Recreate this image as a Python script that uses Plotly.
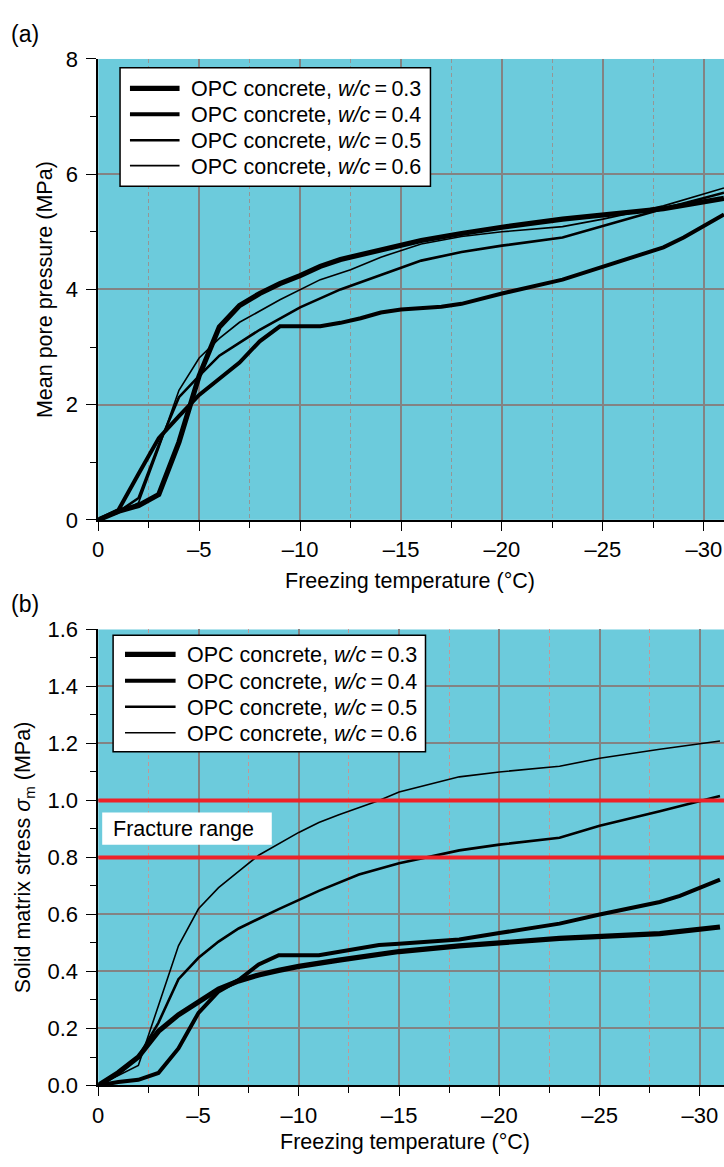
import plotly.graph_objects as go

# ---------------- Panel (a): mean pore pressure (MPa) ----------------
t_a_03 = [0, -1, -2, -3, -4, -5, -6, -7, -8, -9, -10, -11, -12, -14, -16, -18, -20, -23, -25, -28, -31]
p_a_03 = [0, 0.15, 0.25, 0.44, 1.35, 2.5, 3.35, 3.72, 3.93, 4.1, 4.24, 4.4, 4.52, 4.68, 4.85, 4.97, 5.08, 5.22, 5.3, 5.4, 5.58]

t_a_04 = [0, -1, -2, -3, -4, -5, -6, -7, -8, -9, -11, -12, -13, -14, -15, -17, -18, -20, -23, -25, -28, -29, -31]
p_a_04 = [0, 0.17, 0.8, 1.42, 1.8, 2.17, 2.45, 2.73, 3.1, 3.36, 3.36, 3.42, 3.5, 3.6, 3.65, 3.7, 3.75, 3.93, 4.17, 4.4, 4.73, 4.9, 5.3]

t_a_05 = [0, -1, -2, -3, -4, -5, -6, -7, -8, -10, -12, -14, -16, -18, -20, -23, -25, -28, -31]
p_a_05 = [0, 0.14, 0.38, 1.3, 2.13, 2.5, 2.85, 3.08, 3.3, 3.69, 4.0, 4.25, 4.5, 4.65, 4.76, 4.9, 5.1, 5.4, 5.68]

t_a_06 = [0, -1, -2, -3, -4, -5, -6, -7, -9, -11, -12.5, -14, -16, -18, -20, -23, -25, -28, -31]
p_a_06 = [0, 0.12, 0.3, 1.25, 2.25, 2.81, 3.15, 3.43, 3.82, 4.17, 4.34, 4.56, 4.79, 4.92, 5.0, 5.09, 5.22, 5.45, 5.76]

# ---------------- Panel (b): solid matrix stress (MPa) ----------------
t_b_03 = [0, -1, -2, -3, -4, -5, -6, -7, -8, -9, -10, -12, -15, -18, -20, -23, -28, -31]
s_b_03 = [0, 0.045, 0.1, 0.19, 0.248, 0.295, 0.338, 0.367, 0.388, 0.404, 0.418, 0.44, 0.47, 0.49, 0.5, 0.516, 0.533, 0.556]

t_b_04 = [0, -1, -2, -3, -4, -5, -6, -7, -8, -9, -11, -12, -13, -14, -15, -17, -18, -20, -23, -25, -28, -29, -31]
s_b_04 = [0, 0.012, 0.02, 0.044, 0.13, 0.255, 0.33, 0.37, 0.425, 0.457, 0.457, 0.468, 0.48, 0.493, 0.497, 0.505, 0.512, 0.535, 0.568, 0.6, 0.644, 0.665, 0.722]

t_b_05 = [0, -1, -2, -3, -4, -5, -6, -7, -8, -9, -11, -13, -15, -18, -20, -23, -25, -28, -31]
s_b_05 = [0, 0.04, 0.1, 0.22, 0.373, 0.448, 0.505, 0.551, 0.585, 0.619, 0.683, 0.74, 0.78, 0.825, 0.845, 0.869, 0.911, 0.962, 1.016]

t_b_06 = [0, -1, -2, -3, -4, -5, -6, -7, -8, -10, -11, -12, -13, -14, -15, -18, -20, -23, -25, -28, -31]
s_b_06 = [0, 0.035, 0.07, 0.28, 0.49, 0.62, 0.694, 0.751, 0.808, 0.888, 0.923, 0.95, 0.975, 1.0, 1.03, 1.083, 1.1, 1.12, 1.148, 1.18, 1.209]

fracture_range = [1.0, 0.8]

series_names = ["OPC concrete, <i>w/c</i>\u2009=\u20090.3",
                "OPC concrete, <i>w/c</i>\u2009=\u20090.4",
                "OPC concrete, <i>w/c</i>\u2009=\u20090.5",
                "OPC concrete, <i>w/c</i>\u2009=\u20090.6"]
line_widths = [5.2, 4, 2.6, 1.6]

x_tick_vals = [0, -5, -10, -15, -20, -25, -30]
x_tick_text = ["0", "\u20135", "\u201310", "\u201315", "\u201320", "\u201325", "\u201330"]
ya_tick_vals = [0, 2, 4, 6, 8]
yb_tick_vals = [0, 0.2, 0.4, 0.6, 0.8, 1.0, 1.2, 1.4, 1.6]

FONT = "Liberation Sans, Arial, Helvetica, sans-serif"
BG = "#6ccbdc"
GRID = "#838383"
TICKSIZE = 22
TEXTSIZE = 21.5

W, H = 724, 1167
fig = go.Figure()

a_data = [(t_a_03, p_a_03), (t_a_04, p_a_04), (t_a_05, p_a_05), (t_a_06, p_a_06)]
b_data = [(t_b_03, s_b_03), (t_b_04, s_b_04), (t_b_05, s_b_05), (t_b_06, s_b_06)]

for i, (t, p) in enumerate(a_data):
    fig.add_trace(go.Scatter(x=t, y=p, mode="lines", name=series_names[i], showlegend=False,
                             line=dict(color="black", width=line_widths[i]),
                             xaxis="x", yaxis="y"))
for i, (t, s) in enumerate(b_data):
    fig.add_trace(go.Scatter(x=t, y=s, mode="lines", name=series_names[i], showlegend=False,
                             line=dict(color="black", width=line_widths[i]),
                             xaxis="x2", yaxis="y2"))

# Fracture range lines
for v in fracture_range:
    fig.add_trace(go.Scatter(x=[0, -31.2], y=[v, v], mode="lines", showlegend=False,
                             line=dict(color="#ee2128", width=4.2), xaxis="x2", yaxis="y2",
                             hoverinfo="skip"))

xdom = [93 / W, 1.0]
ya_dom = [1 - 519 / H, 1 - 48 / H]
yb_dom = [1 - 1097 / H, 1 - 631 / H]


def xaxis(rng, anchor, minor_color):
    return dict(domain=xdom, range=rng, anchor=anchor,
                tickvals=x_tick_vals, ticktext=x_tick_text,
                ticks="outside", ticklen=9, tickwidth=1.3, tickcolor="black",
                showline=True, linecolor="black", linewidth=1.5,
                showgrid=True, gridcolor=GRID, gridwidth=1.8, zeroline=False,
                minor=dict(tick0=0, dtick=2.5, ticks="outside", ticklen=6, tickwidth=1.2,
                           tickcolor="black", showgrid=True, gridcolor=minor_color,
                           griddash="4px,3px", gridwidth=1),
                tickfont=dict(family=FONT, size=TICKSIZE, color="black"))


def yaxis(rng, dom, anchor, vals, minor_dtick, fmt):
    return dict(domain=dom, range=rng, anchor=anchor, tickvals=vals, tickformat=fmt,
                ticks="outside", ticklen=10, tickwidth=1.3, tickcolor="black",
                ticklabelstandoff=4,
                showline=True, linecolor="black", linewidth=1.5,
                showgrid=True, gridcolor=GRID, gridwidth=1.8, zeroline=False,
                minor=dict(tick0=0, dtick=minor_dtick, ticks="outside", ticklen=6, tickwidth=1.2,
                           tickcolor="black", showgrid=False),
                tickfont=dict(family=FONT, size=TICKSIZE, color="black"))


fig.update_layout(
    width=W, height=H,
    margin=dict(l=0, r=0, t=0, b=0),
    paper_bgcolor="white", plot_bgcolor=BG,
    font=dict(family=FONT, size=TEXTSIZE, color="black"),
    xaxis=xaxis([0, -31.0], "y", "#959595"),
    xaxis2=xaxis([0, -31.2], "y2", "#c09898"),
    yaxis=yaxis([0, 8], ya_dom, "x", ya_tick_vals, 1, ""),
    yaxis2=yaxis([0, 1.6], yb_dom, "x2", yb_tick_vals, 0.1, ".1f"),
    showlegend=False,
)


def px_x(v):
    return v / W


def px_y(v):
    return 1 - v / H


# Hand-drawn legend boxes (box, line samples, labels) in pixel positions
legend_specs = [
    dict(box=(115, 57, 428, 178), line_x=(125, 175), text_x=185, rows=[78, 104.5, 131, 157]),
    dict(box=(108, 637, 423, 756), line_x=(120, 171), text_x=180, rows=[656.5, 683.5, 710, 736.5]),
]
for spec in legend_specs:
    x0, y0, x1, y1 = spec["box"]
    fig.add_shape(type="rect", xref="paper", yref="paper",
                  x0=px_x(x0), x1=px_x(x1), y0=px_y(y1), y1=px_y(y0),
                  fillcolor="white", line=dict(color="black", width=1.5), layer="above")
    for i, ry in enumerate(spec["rows"]):
        fig.add_shape(type="line", xref="paper", yref="paper",
                      x0=px_x(spec["line_x"][0]), x1=px_x(spec["line_x"][1]),
                      y0=px_y(ry), y1=px_y(ry),
                      line=dict(color="black", width=line_widths[i]), layer="above")
        fig.add_annotation(xref="paper", yref="paper", showarrow=False,
                           x=px_x(spec["text_x"]), y=px_y(ry + 1), xanchor="left", yanchor="middle",
                           text=series_names[i],
                           font=dict(family=FONT, size=TEXTSIZE, color="black"))

# Fracture range label box
fig.add_shape(type="rect", xref="paper", yref="paper",
              x0=px_x(97), x1=px_x(268), y0=px_y(851), y1=px_y(818),
              fillcolor="white", line=dict(width=0), layer="above")

ann = [
    dict(text="(a)", x=px_x(3), y=px_y(22), xanchor="left", yanchor="middle", size=23),
    dict(text="(b)", x=px_x(3), y=px_y(605), xanchor="left", yanchor="middle", size=23),
    dict(text="Mean pore pressure (MPa)", x=px_x(40), y=px_y(283.5), textangle=-90,
         xanchor="center", yanchor="middle"),
    dict(text="Solid matrix stress <i>σ</i><sub>m</sub> (MPa)", x=px_x(19), y=px_y(864),
         textangle=-90, xanchor="center", yanchor="middle"),
    dict(text="Freezing temperature (°C)", x=px_x(407), y=px_y(581),
         xanchor="center", yanchor="middle"),
    dict(text="Freezing temperature (°C)", x=px_x(402), y=px_y(1155),
         xanchor="center", yanchor="middle"),
    dict(text="Fracture range", x=px_x(106), y=px_y(835), xanchor="left", yanchor="middle"),
]
for a in ann:
    size = a.pop("size", TEXTSIZE)
    fig.add_annotation(xref="paper", yref="paper", showarrow=False,
                       font=dict(family=FONT, size=size, color="black"), **a)

fig.write_html("out.html")
